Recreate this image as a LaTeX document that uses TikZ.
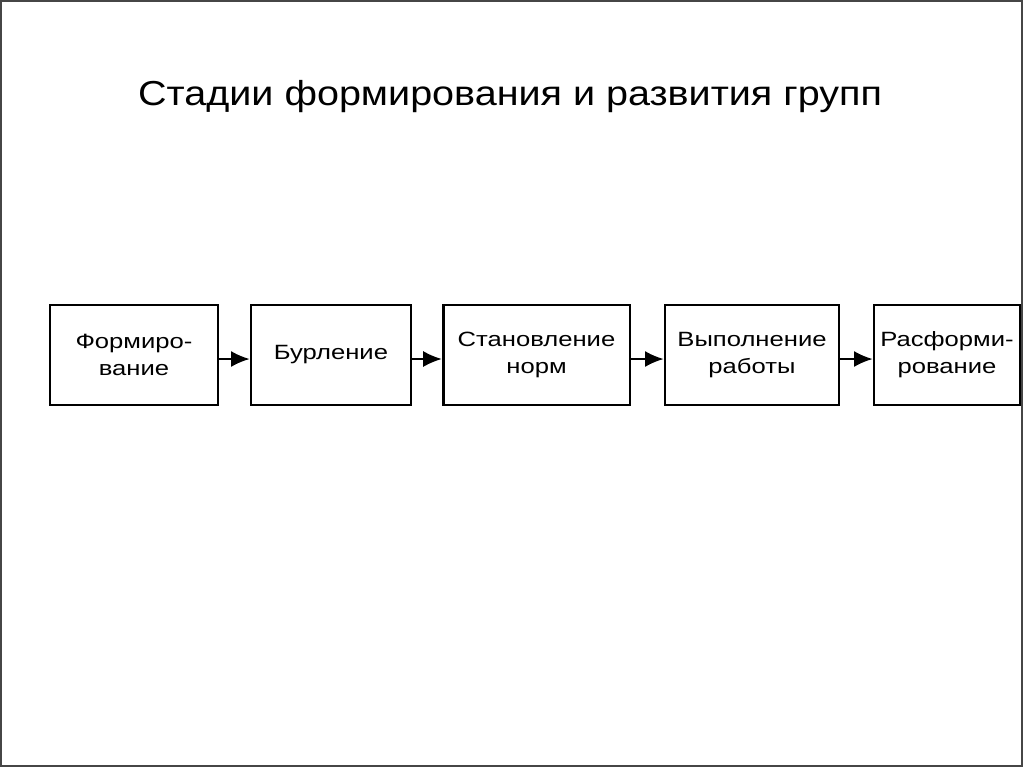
\documentclass[tikz,border=0pt]{standalone}
\usepackage{fontspec}
\setmainfont{Liberation Sans}
\newfontfamily\titlefont[FakeStretch=1.14]{Liberation Sans}
\newfontfamily\stagefont[FakeStretch=1.24]{Liberation Sans}
\usetikzlibrary{arrows.meta, positioning}
\definecolor{framegray}{RGB}{70, 70, 70}

\begin{document}
\begin{tikzpicture}[x=0.75pt, y=-0.75pt,
  stagebox/.style={draw=black, line width=2pt, minimum height=75pt, inner sep=0pt, align=center, font=\stagefont\fontsize{15.5}{20.25}\selectfont},
  stagearr/.style={line width=1.4pt, -{Latex[length=14pt, width=12pt]}}
]
  \useasboundingbox (0,0) rectangle (1024,768);
  \draw[framegray, line width=1.5pt] (1,1) rectangle (1022,766);

  % title
  \node[font=\titlefont\fontsize{26}{30}\selectfont] (title) at (510,97) {Стадии формирования и развития групп};

  % stages
  \node[stagebox, minimum width=126pt] (form) at (134,355) {Формиро-\\вание};
  \node[stagebox, minimum width=120pt] (storm) at (331,355) {Бурление};
  \node[stagebox, minimum width=140pt] (norm) at (536.5,355) {Становление\\норм};
  \node[stagebox, minimum width=130.5pt] (perf) at (752,355) {Выполнение\\работы};
  \node[stagebox, minimum width=109.5pt] (adj) at (947,355) {Расформи-\\рование};

  \draw[stagearr] ([yshift=-3pt]form.east) -- ([yshift=-3pt]storm.west);
  \draw[stagearr] ([yshift=-3pt]storm.east) -- ([yshift=-3pt]norm.west);
  \draw[stagearr] ([yshift=-3pt]norm.east) -- ([yshift=-3pt]perf.west);
  \draw[stagearr] ([yshift=-3pt]perf.east) -- ([yshift=-3pt]adj.west);
\end{tikzpicture}
\end{document}
